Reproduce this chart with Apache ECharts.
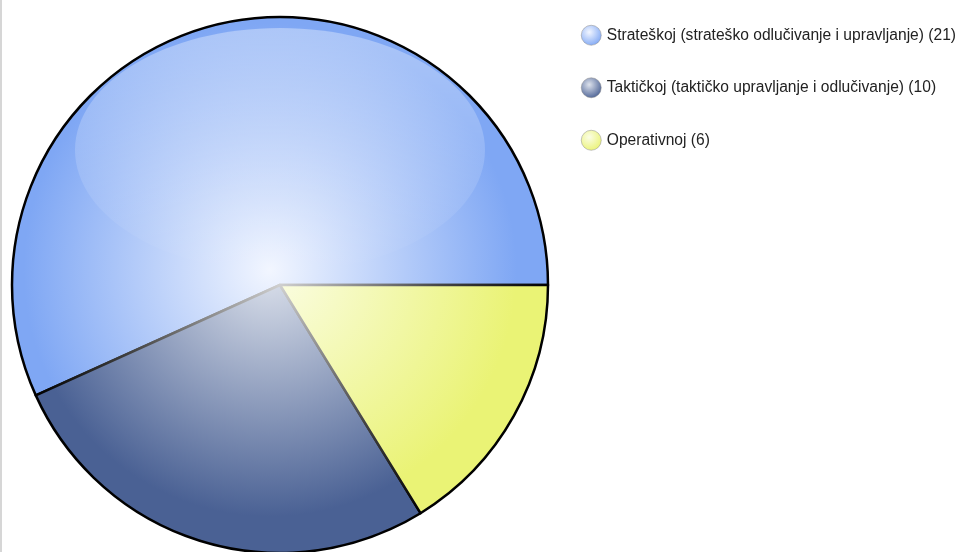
<!DOCTYPE html>
<html>
<head>
<meta charset="utf-8">
<script src="https://cdn.jsdelivr.net/npm/echarts@6/dist/echarts.min.js"></script>
<style>
  html, body { margin: 0; padding: 0; background: #fff; }
  #chart { width: 961px; height: 552px; }
</style>
</head>
<body>
<div id="chart"></div>
<script>
  var categories = ['Strateškoj (strateško odlučivanje i upravljanje) (21)', 'Taktičkoj (taktičko upravljanje i odlučivanje) (10)', 'Operativnoj (6)']
  var values = [21, 10, 6]
  // inner / outer colours of each slice
  var innerColors = ['#f2f6ff', '#dde2ec', '#fbfde6']
  var outerColors = ['#7fa7f4', '#4a6194', '#eaf375']

  var cx = 280, cy = 285, r = 268

  function sliceColor(i) {
    return new echarts.graphic.RadialGradient(cx - 10, cy - 15, r, [
      {offset: 0, color: innerColors[i]},
      {offset: 0.92, color: outerColors[i]},
      {offset: 1, color: outerColors[i]}
    ], true)
  }

  function iconColor(i) {
    return new echarts.graphic.RadialGradient(0.4, 0.35, 0.7, [
      {offset: 0, color: innerColors[i]},
      {offset: 1, color: outerColors[i]}
    ])
  }

  var chart = echarts.init(document.getElementById('chart'))

  var pieData = values.map(function (v, i) {
    return {name: categories[i], value: v, itemStyle: {color: sliceColor(i)}}
  })

  var option = {
    animation: false,
    legend: {
      orient: 'vertical',
      left: 576,
      top: 20,
      icon: 'circle',
      itemWidth: 21,
      itemHeight: 20,
      itemGap: 32,
      textStyle: {fontFamily: 'Liberation Sans, Arial', fontSize: 15.6, color: '#222'},
      data: categories.map(function (c, i) {
        return {name: c, itemStyle: {color: iconColor(i), borderColor: '#8a8a8a', borderWidth: 0.5}}
      })
    },
    graphic: [
      {type: 'rect', left: 0, top: 0, shape: {width: 2, height: 552}, style: {fill: '#d6d6d6'}},
      {
        type: 'ellipse', z: 100, silent: true,
        shape: {cx: cx, cy: 150, rx: 205, ry: 122},
        style: {
          fill: new echarts.graphic.LinearGradient(0, 0, 0, 1, [
            {offset: 0, color: 'rgba(255,255,255,0.35)'},
            {offset: 1, color: 'rgba(255,255,255,0)'}
          ])
        }
      }
    ],
    series: [{
      type: 'pie',
      center: [cx, cy],
      radius: r,
      startAngle: 0,
      clockwise: false,
      label: {show: false},
      labelLine: {show: false},
      emphasis: {disabled: true},
      itemStyle: {
        borderWidth: 2.5,
        borderColor: new echarts.graphic.RadialGradient(cx, cy, r, [
          {offset: 0, color: '#cfcfcf'},
          {offset: 0.6, color: '#444'},
          {offset: 1, color: '#000'}
        ], true)
      },
      data: pieData
    }]
  }
  chart.setOption(option)
</script>
</body>
</html>
